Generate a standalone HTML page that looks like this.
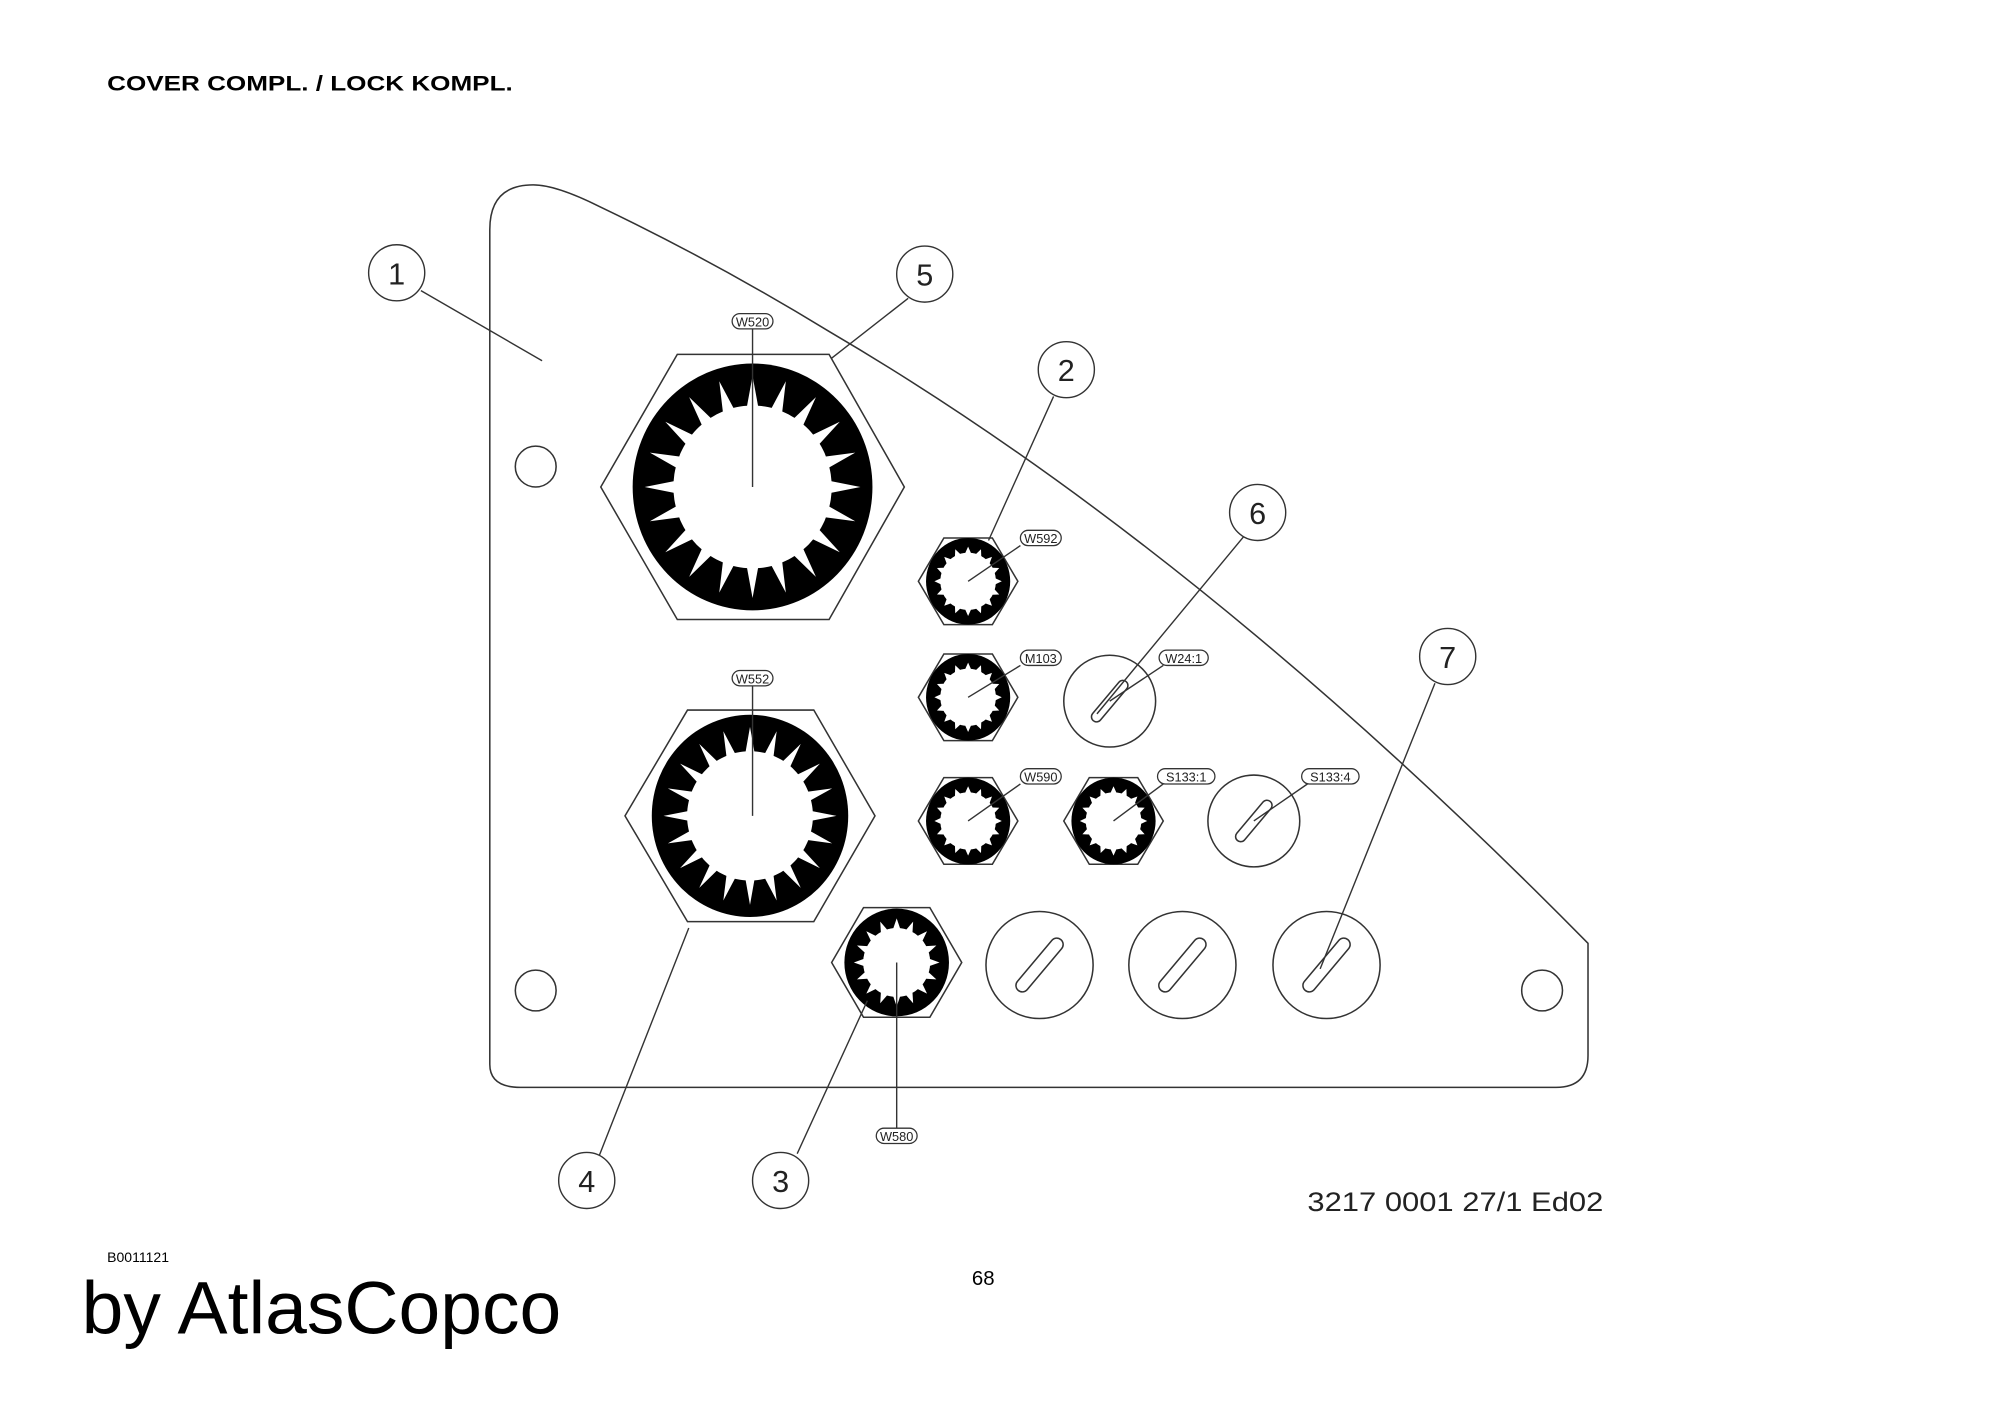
<!DOCTYPE html>
<html><head><meta charset="utf-8"><style>
html,body{margin:0;padding:0;background:#fff;}
svg{display:block;}
text{font-family:"Liberation Sans",sans-serif;}
</style></head><body>
<svg id="s" width="2000" height="1415" viewBox="0 0 1568 1110" preserveAspectRatio="none" xmlns="http://www.w3.org/2000/svg">
<rect width="1568" height="1110" fill="#fff"/>
<text x="84" y="71" font-size="17" font-weight="bold" textLength="318" lengthAdjust="spacingAndGlyphs">COVER COMPL. / LOCK KOMPL.</text>
<g fill="none" stroke="#333" stroke-width="1.2">
<path d="M384,835 L384,180 Q384,145 418,145 Q436,145 470,162 Q560,205 650,260 Q940,430 1245,740 L1245,828 Q1245,853 1220,853 L408,853 Q384,853 384,835 Z"/>
<circle cx="420" cy="366" r="16"/>
<circle cx="420" cy="777" r="16"/>
<circle cx="1209" cy="777" r="16"/>
<polygon points="471,382 531,278 650,278 709,382 650,486 531,486"/>
<polygon points="490,640 539,557 638,557 686,640 638,723 539,723"/>
<polygon points="720,456 740,422 778,422 798,456 778,490 740,490"/>
<polygon points="720,547 740,513 778,513 798,547 778,581 740,581"/>
<polygon points="720,644 740,610 778,610 798,644 778,678 740,678"/>
<polygon points="834,644 854,610 892,610 912,644 892,678 854,678"/>
<polygon points="652,755 677,712 729,712 754,755 729,798 677,798"/>
<circle cx="870" cy="550" r="36"/>
<circle cx="983" cy="644" r="36"/>
<circle cx="815" cy="757" r="42"/>
<circle cx="927" cy="757" r="42"/>
<circle cx="1040" cy="757" r="42"/>
</g>
<g id="stars"></g>
<g fill="#fff" stroke="#333" stroke-width="1.2">
<rect x="-4" y="-20" width="8" height="40" rx="4" transform="translate(870,550) rotate(40)"/>
<rect x="-4" y="-20" width="8" height="40" rx="4" transform="translate(983,644) rotate(40)"/>
<rect x="-5" y="-26" width="10" height="52" rx="5" transform="translate(815,757) rotate(40)"/>
<rect x="-5" y="-26" width="10" height="52" rx="5" transform="translate(927,757) rotate(40)"/>
<rect x="-5" y="-26" width="10" height="52" rx="5" transform="translate(1040,757) rotate(40)"/>
</g>
<g fill="none" stroke="#333" stroke-width="1.1">
<line x1="330" y1="228" x2="425" y2="283"/>
<line x1="712" y1="234" x2="652" y2="281"/>
<line x1="826" y1="311" x2="775" y2="424"/>
<line x1="975" y1="421" x2="860" y2="560"/>
<line x1="1125" y1="536" x2="1035" y2="760"/>
<line x1="470" y1="906" x2="540" y2="728"/>
<line x1="625" y1="905" x2="680" y2="785"/>
<line x1="590" y1="258" x2="590" y2="382"/>
<line x1="590" y1="538" x2="590" y2="640"/>
<line x1="703" y1="885" x2="703" y2="755"/>
<line x1="800" y1="428" x2="759" y2="456"/>
<line x1="800" y1="522" x2="759" y2="547"/>
<line x1="800" y1="615" x2="759" y2="644"/>
<line x1="912" y1="615" x2="873" y2="644"/>
<line x1="912" y1="522" x2="870" y2="550"/>
<line x1="1025" y1="615" x2="983" y2="644"/>
<circle cx="311" cy="214" r="22" fill="#fff"/>
<circle cx="725" cy="215" r="22" fill="#fff"/>
<circle cx="836" cy="290" r="22" fill="#fff"/>
<circle cx="986" cy="402" r="22" fill="#fff"/>
<circle cx="1135" cy="515" r="22" fill="#fff"/>
<circle cx="460" cy="926" r="22" fill="#fff"/>
<circle cx="612" cy="926" r="22" fill="#fff"/>
</g>
<g font-size="24" text-anchor="middle" fill="#222">
<text x="311" y="223">1</text><text x="725" y="224">5</text><text x="836" y="299">2</text>
<text x="986" y="411">6</text><text x="1135" y="524">7</text><text x="460" y="935">4</text><text x="612" y="935">3</text>
</g>
<g font-size="10" fill="#222">
<g id="labs"></g>
</g>
<text x="1025" y="950" font-size="21" fill="#222" textLength="232" lengthAdjust="spacingAndGlyphs">3217 0001 27/1  Ed02</text>
<text x="84" y="990" font-size="11">B0011121</text>
<text x="762" y="1008" font-size="16">68</text>
<text x="64" y="1046" font-size="58" textLength="376" lengthAdjust="spacingAndGlyphs">by AtlasCopco</text>
</svg>
<script>
var NS="http://www.w3.org/2000/svg",st=document.getElementById("stars");
function star(cx,cy,R,n,o,i,d){
 var e=document.createElementNS(NS,"ellipse");e.setAttribute("cx",cx);e.setAttribute("cy",cy);e.setAttribute("rx",R);e.setAttribute("ry",R*1.03);e.setAttribute("fill","#000");st.appendChild(e);
 var p=[];
 function pt(a,r){p.push((cx+r*R*Math.cos(a)).toFixed(1)+","+(cy+r*R*Math.sin(a)*1.03).toFixed(1));}
 for(var k=0;k<n;k++){var a=2*Math.PI*k/n-Math.PI/2;var da=Math.PI/n;
  pt(a-d,i);pt(a,o);pt(a+d,i);
  for(var j=1;j<4;j++){pt(a+d+(2*da-2*d)*j/4,i);}
 }
 var g=document.createElementNS(NS,"polygon");g.setAttribute("points",p.join(" "));g.setAttribute("fill","#fff");st.appendChild(g);
}
star(590,382,94,20,0.9,0.66,0.07);star(588,640,77,20,0.88,0.64,0.07);
star(759,456,33,16,0.8,0.66,0.1);star(759,547,33,16,0.8,0.66,0.1);star(759,644,33,16,0.8,0.66,0.1);star(873,644,33,16,0.8,0.66,0.1);star(703,755,41,16,0.82,0.64,0.1);
var L=document.getElementById("labs");
[["W520",590,252],["W552",590,532],["W580",703,891],["W592",816,422],["M103",816,516],["W24:1",928,516],["W590",816,609],["S133:1",930,609],["S133:4",1043,609]].forEach(function(d){
 var w=d[0].length*6.5+6;var r=document.createElementNS(NS,"rect");r.setAttribute("x",d[1]-w/2);r.setAttribute("y",d[2]-6);r.setAttribute("width",w);r.setAttribute("height",12);r.setAttribute("rx",6);r.setAttribute("fill","#fff");r.setAttribute("stroke","#333");L.appendChild(r);
 var t=document.createElementNS(NS,"text");t.setAttribute("x",d[1]);t.setAttribute("y",d[2]+4);t.setAttribute("text-anchor","middle");t.textContent=d[0];L.appendChild(t);
});
</script>
</body></html>
